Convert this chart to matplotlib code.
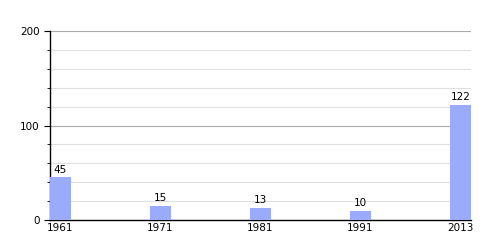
import matplotlib.pyplot as plt
from matplotlib.ticker import MultipleLocator

years = ['1961', '1971', '1981', '1991', '2013']
population = [45, 15, 13, 10, 122]

fig = plt.figure(figsize=(5, 2.5), dpi=100)
ax = fig.add_axes([0.1, 0.12, 0.842, 0.756])

pos = list(range(len(years)))
width = 0.21
bars = ax.bar(pos, population, width=width, align='edge', color='#9aabfb', zorder=3)

for p, v in zip(pos, population):
    ax.text(p + width / 2, v + 3, str(v), ha='center', va='bottom', fontsize=7.5)

ax.set_xticks([p + width / 2 for p in pos])
ax.set_xticklabels(years, fontsize=7.5)
ax.tick_params(axis='x', length=0, pad=2)
ax.set_xlim(0, len(years) - 1 + width)

ax.set_ylim(0, 200)
ax.yaxis.set_major_locator(MultipleLocator(100))
ax.yaxis.set_minor_locator(MultipleLocator(20))
ax.tick_params(axis='y', which='major', labelsize=7.5, length=4, direction='out')
ax.tick_params(axis='y', which='minor', length=2, direction='out')
ax.grid(axis='y', which='major', color='#aaaaaa', linewidth=0.8, zorder=0)
ax.grid(axis='y', which='minor', color='#e0e0e0', linewidth=0.8, zorder=0)

for s in ['top', 'right']:
    ax.spines[s].set_visible(False)
ax.spines['left'].set_linewidth(1.0)
ax.spines['bottom'].set_linewidth(1.0)

fig.savefig('out.png', dpi=100)
